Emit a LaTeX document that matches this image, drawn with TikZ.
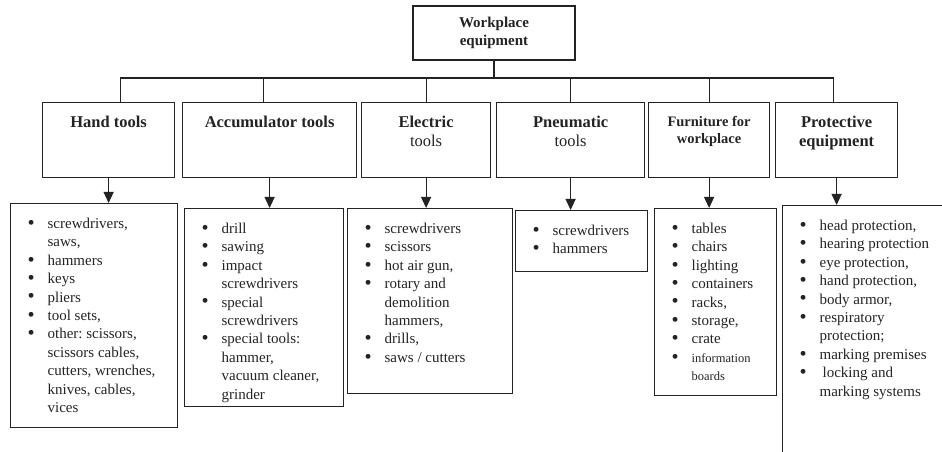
\documentclass[tikz,border=0pt]{standalone}
\usepackage{fontspec}
\setmainfont{Liberation Serif}
\usepackage{tikz}
\usetikzlibrary{positioning, arrows.meta, calc}
\definecolor{scanink}{RGB}{35, 35, 35}
\frenchspacing

\newcommand{\li}{\par\noindent\hangindent=20bp\hangafter=1\strut\makebox[20bp][l]{\raisebox{-0.8bp}{\scalebox{1.35}{\textbullet}}}}
\newcommand{\itemlist}[3]{\hspace*{17bp}\parbox[c][#2bp][t]{\dimexpr #1bp-17bp\relax}{\fontsize{15bp}{18.4bp}\selectfont\vspace*{12bp}#3}}

\begin{document}
\begin{tikzpicture}[
      x=1bp, y=-1bp,
      every node/.style={text=scanink},
      rootbox/.style={
        draw=scanink, line width=1.3bp, minimum width=162bp, minimum height=54bp,
        align=center, font=\fontsize{15bp}{18bp}\selectfont\bfseries
      },
      catbox/.style={
        draw=scanink, line width=1.2bp, minimum height=75bp,
        anchor=north west, inner sep=0pt
      },
      cathead/.style={
        anchor=north, yshift=-14bp, inner sep=0pt, align=center,
        font=\fontsize{16.5bp}{19bp}\selectfont\bfseries
      },
      listbox/.style={draw=scanink, line width=1.2bp, anchor=north west, inner sep=0pt},
      link/.style={draw=scanink, line width=1.2bp},
      arr/.style={link, -{Triangle[width=10bp, length=11bp]}}
    ]
      \useasboundingbox (0,0) rectangle (942,452);
      \clip (0,0) rectangle (942,452);

      \node[rootbox] (root) at (494,33) {Workplace\\equipment};

      \node[catbox, minimum width=132bp, label={[cathead]north:{Hand tools}}] (hand) at (42,102) {};
      \node[catbox, minimum width=174bp, label={[cathead]north:{Accumulator tools}}] (acc) at (182,102) {};
      \node[catbox, minimum width=129bp, label={[cathead]north:{Electric\\{\mdseries tools}}}] (elec) at (361,102) {};
      \node[catbox, minimum width=148bp, label={[cathead]north:{Pneumatic\\{\mdseries tools}}}] (pneu) at (496,102) {};
      \node[catbox, minimum width=121bp, label={[cathead, font=\fontsize{14.5bp}{17bp}\selectfont\bfseries]north:{Furniture for\\workplace}}] (furn) at (648,102) {};
      \node[catbox, minimum width=122bp, label={[cathead]north:{Protective\\equipment}}] (prot) at (775,102) {};

      \node[listbox] (handL) at (10,203) {\itemlist{167}{224}{%
        \li screwdrivers,\\ saws,
        \li hammers
        \li keys
        \li pliers
        \li tool sets,
        \li other: scissors,\\ scissors cables,\\ cutters, wrenches,\\ knives, cables,\\ vices}};
      \node[listbox] (accL) at (184,208) {\itemlist{159}{198}{%
        \li drill
        \li sawing
        \li impact\\ screwdrivers
        \li special\\ screwdrivers
        \li special tools:\\ hammer,\\ vacuum cleaner,\\ grinder}};
      \node[listbox] (elecL) at (347,208) {\itemlist{165}{185}{%
        \li screwdrivers
        \li scissors
        \li hot air gun,
        \li rotary and\\ demolition\\ hammers,
        \li drills,
        \li saws / cutters}};
      \node[listbox] (pneuL) at (515,210) {\itemlist{132}{61}{%
        \li screwdrivers
        \li hammers}};
      \node[listbox] (furnL) at (654,208) {\itemlist{122}{187}{%
        \li tables
        \li chairs
        \li lighting
        \li containers
        \li racks,
        \li storage,
        \li crate
        \li {\fontsize{12.5bp}{18.4bp}\selectfont information\\ boards}}};
      \node[listbox] (protL) at (782,205) {\itemlist{180}{262}{%
        \li head protection,
        \li hearing protection
        \li eye protection,
        \li hand protection,
        \li body armor,
        \li respiratory\\ protection;
        \li marking premises
        \li \hspace*{3bp}locking and\\ marking systems}};

      \draw[link] (root.south) -- ++(0,18);
      \draw[link] ($(hand.north)+(12,0)$) -- ++(0,-24) -| ($(prot.north)+(-3,0)$);
      \draw[link] ($(acc.north)+(-6,0)$) -- ++(0,-24);
      \draw[link] (elec.north) -- ++(0,-24);
      \draw[link] (pneu.north) -- ++(0,-24);
      \draw[link] (furn.north) -- ++(0,-24);

      \draw[arr] (hand.south) -- (hand.south |- handL.north);
      \draw[arr] (acc.south) -- (acc.south |- accL.north);
      \draw[arr] (elec.south) -- (elec.south |- elecL.north);
      \draw[arr] (pneu.south) -- (pneu.south |- pneuL.north);
      \draw[arr] (furn.south) -- (furn.south |- furnL.north);
      \draw[arr] (prot.south) -- (prot.south |- protL.north);
    \end{tikzpicture}
\end{document}
